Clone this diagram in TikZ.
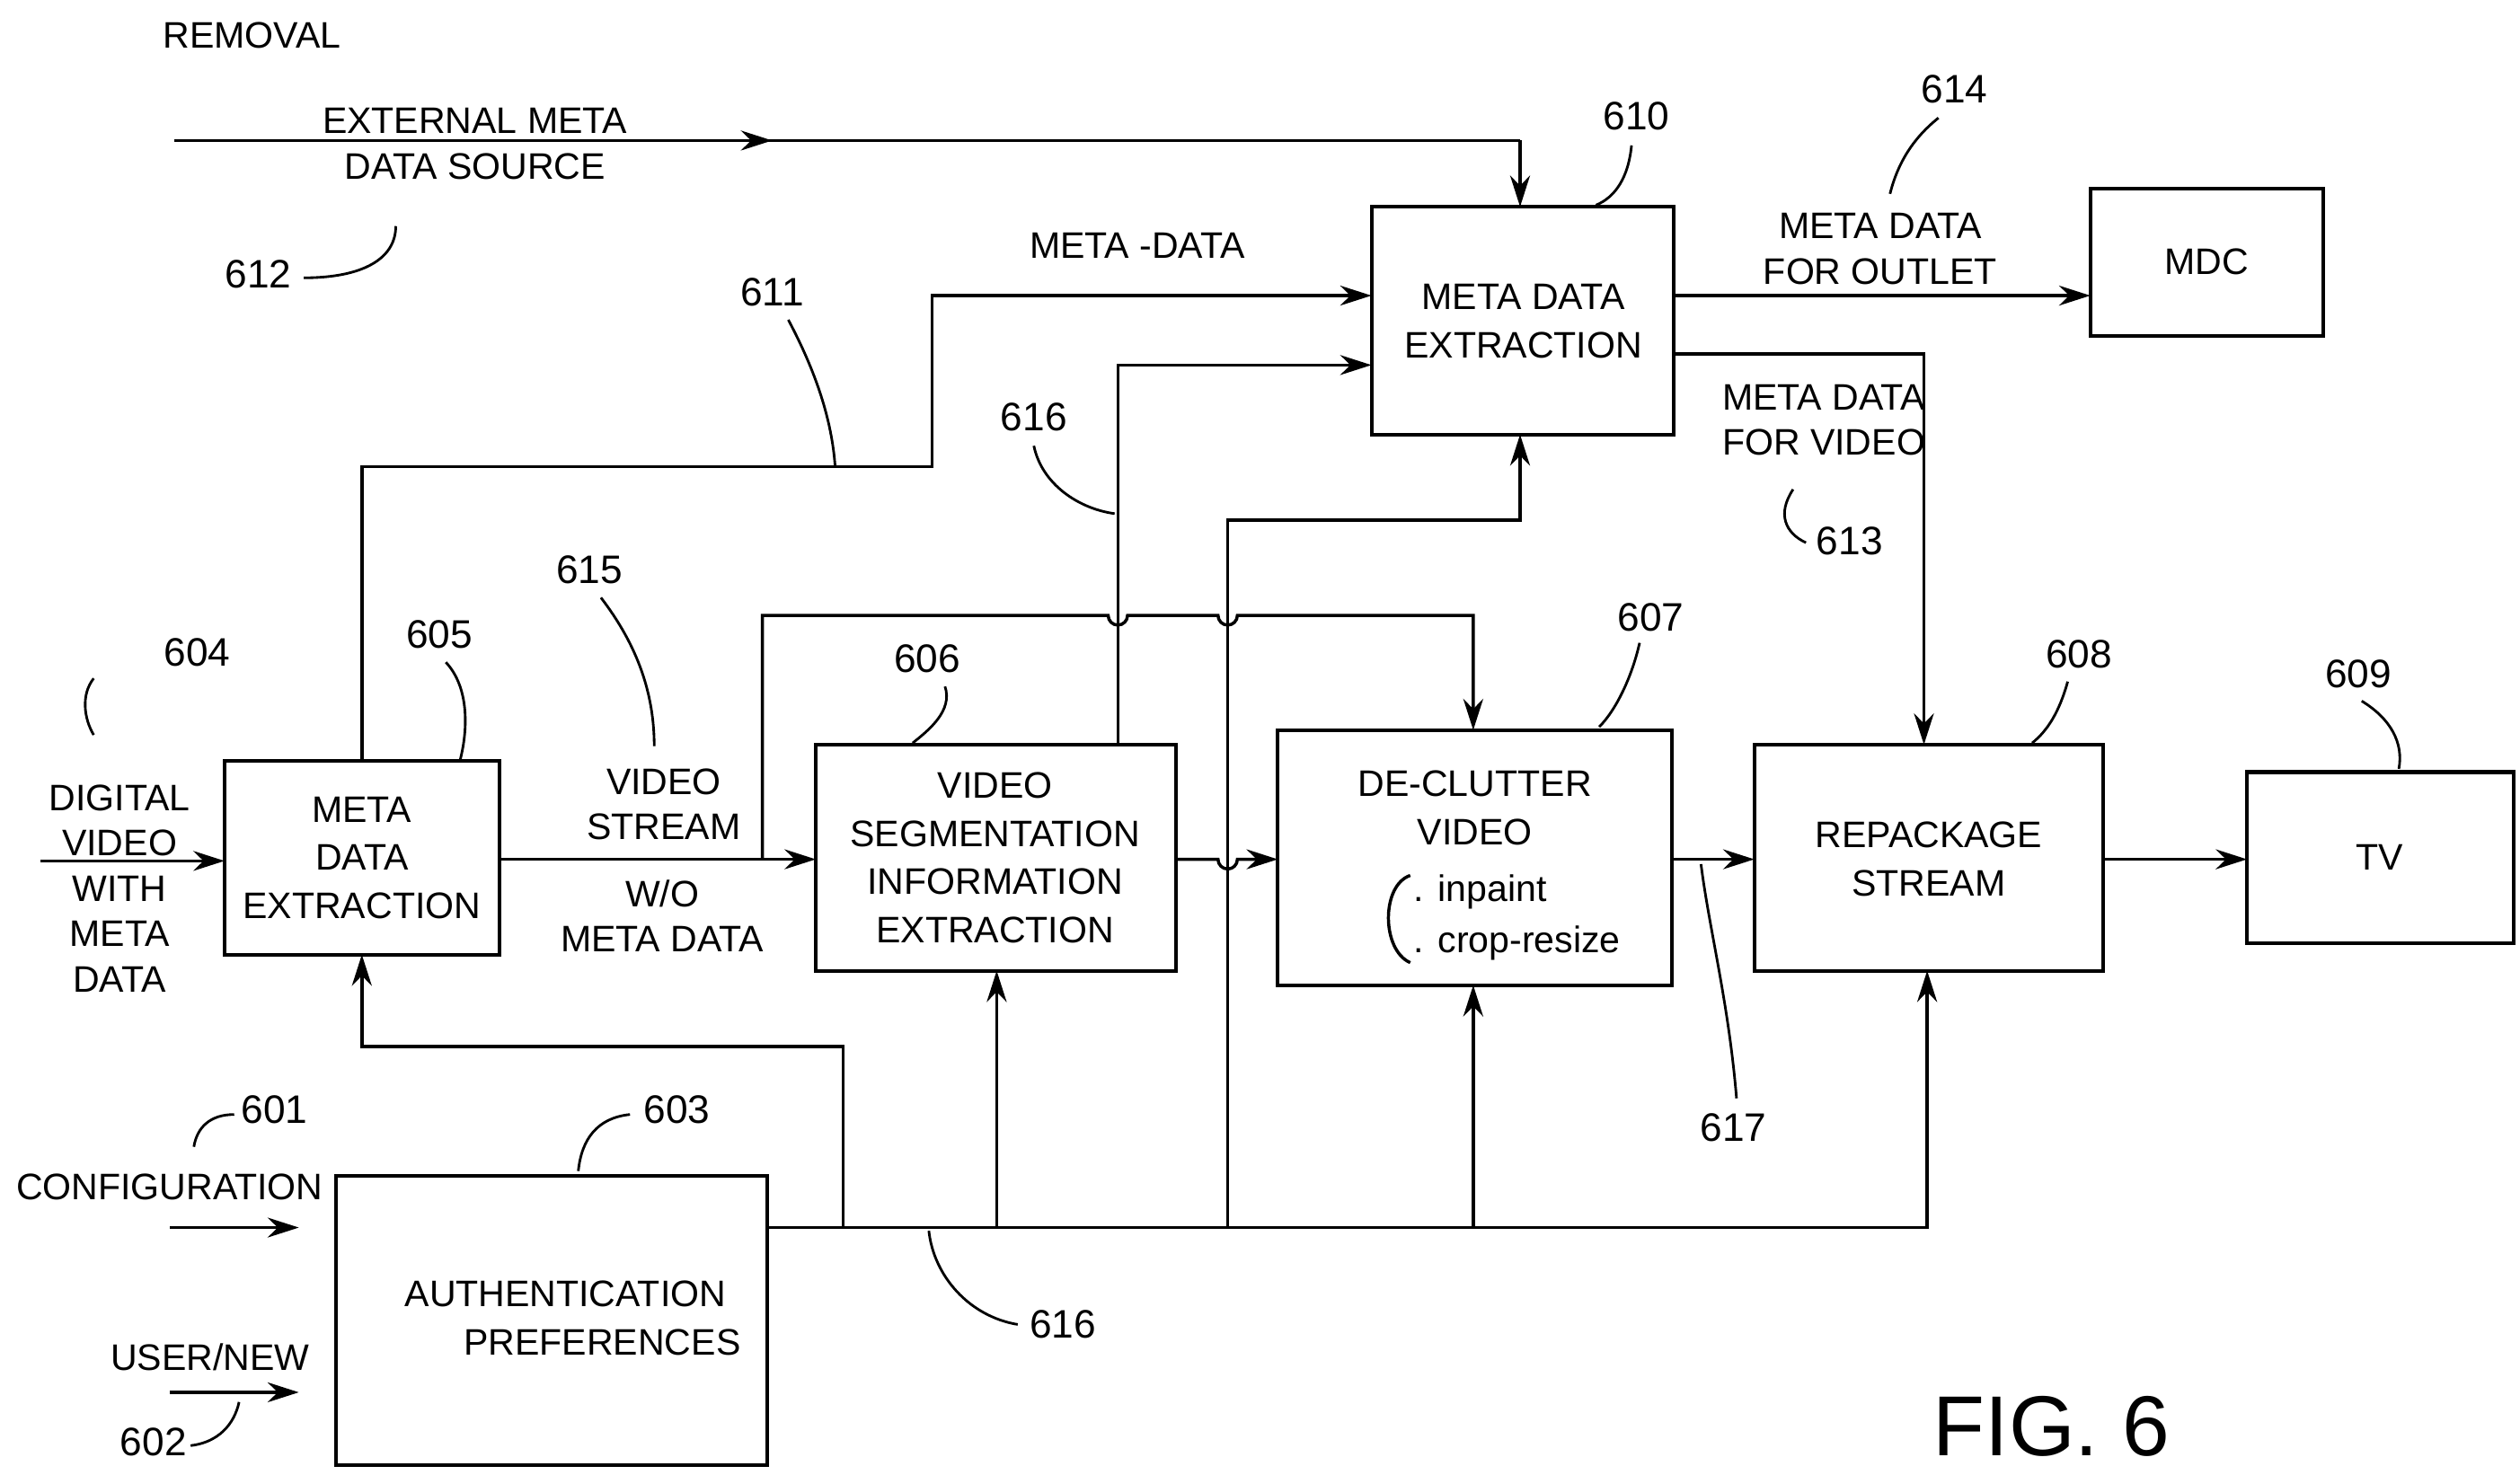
\documentclass[tikz,border=0pt]{standalone}
\usepackage{fontspec}
\setmainfont{Liberation Sans}
\usetikzlibrary{arrows.meta}
\begin{document}
\begin{tikzpicture}[x=0.02cm,y=-0.02cm,
 ln/.style={line width=1.1pt},
 bx/.style={line width=1.3pt},
 ar/.style={ln,-{Stealth[length=11pt,width=7pt]}},
 lead/.style={line width=0.9pt},
 t/.style={font=\fontsize{13}{16}\selectfont,align=center,inner sep=0pt},
 num/.style={font=\fontsize{14}{16}\selectfont,inner sep=0pt}]
\useasboundingbox (0,0) rectangle (1560,913);
% boxes
\draw[bx] (139,471) rectangle (309,591); \node[t] (b605) at (224,531) {META\\[1pt]DATA\\[1pt]EXTRACTION};
\draw[bx] (505,461) rectangle (728,601); \node[t] (b606) at (616,531) {VIDEO\\[1pt]SEGMENTATION\\[1pt]INFORMATION\\[1pt]EXTRACTION};
\draw[bx] (791,452) rectangle (1035,610); \node[t] (b607) at (913,500) {DE-CLUTTER\\[1pt]VIDEO};
\node[t,align=left,anchor=west] (b607b) at (875,568) {. inpaint\\[2pt]. crop-resize};
\draw[ln] (873,542) .. controls (855,548) and (855,588) .. (873,596);
\draw[bx] (1086,461) rectangle (1302,601); \node[t] (b608) at (1194,532) {REPACKAGE\\[1pt]STREAM};
\draw[bx] (1391,478) rectangle (1556,584); \node[t] (b609) at (1473,531) {TV};
\draw[bx] (849,128) rectangle (1036,269); \node[t] (b610) at (943,199) {META DATA\\[1pt]EXTRACTION};
\draw[bx] (1294,117) rectangle (1438,208); \node[t] (mdc) at (1366,162) {MDC};
\draw[bx] (208,728) rectangle (475,907); \node[t] (b603) at (350,816) {AUTHENTICATION\\[1pt]\hspace*{2em}PREFERENCES};
% main flow
\draw[ar] (25,533) -- (139,533);
\node[t] (dv) at (74,550) {DIGITAL\\[0pt]VIDEO\\[0pt]WITH\\[0pt]META\\[0pt]DATA};
\draw[ar] (309,532) -- (505,532);
\node[t] (vs) at (411,498) {VIDEO\\[0pt]STREAM};
\node[t] (wo) at (410,567) {W/O\\[0pt]META DATA};
\draw[ar] (728,532) -- (754,532) arc (180:0:6) -- (791,532);
\draw[ar] (1035,532) -- (1086,532);
\draw[ar] (1302,532) -- (1391,532);
% 611 path
\draw[ar] (224,471) -- (224,289) -- (577,289) -- (577,183) -- (849,183);
\node[t] at (704,152) {META -DATA};
% branch to 607
\draw[ar] (472,532) -- (472,381) -- (686,381) arc (180:0:6) -- (754,381) arc (180:0:6) -- (912,381) -- (912,452);
% 606 top
\draw[ar] (692,461) -- (692,226) -- (849,226);
% 760 riser
\draw[ar] (760,760) -- (760,322) -- (941,322) -- (941,269);
% external
\draw[ln] (108,87) -- (941,87);
\draw[ar] (108,87) -- (478,87);
\draw[ar] (941,87) -- (941,128);
\node[t] at (156,22) {REMOVAL};
\node[t] at (294,89) {EXTERNAL META\\[0pt]DATA SOURCE};
% outputs of 610
\draw[ar] (1036,183) -- (1294,183);
\node[t] at (1164,154) {META DATA\\[0pt]FOR OUTLET};
\draw[ar] (1036,219) -- (1191,219) -- (1191,461);
\node[t] at (1129,260) {META DATA\\[0pt]FOR VIDEO};
% bus
\draw[ar] (475,760) -- (1193,760) -- (1193,601);
\draw[ar] (522,760) -- (522,648) -- (224,648) -- (224,591);
\draw[ar] (617,760) -- (617,601);
\draw[ar] (912,760) -- (912,610);
% inputs to 603
\node[t] at (105,735) {CONFIGURATION};
\draw[ar] (105,760) -- (185,760);
\node[t] at (130,840) {USER/NEW};
\draw[ar] (105,862) -- (185,862);
% reference numbers
\node[num] at (122,404) {604};
\draw[lead] (58,420) .. controls (50,430) and (52,445) .. (58,455);
\node[num] at (272,393) {605}; \draw[lead] (276,410) .. controls (290,425) and (290,450) .. (285,470);
\node[num] at (365,353) {615}; \draw[lead] (372,370) .. controls (395,400) and (405,430) .. (405,462);
\node[num] at (574,408) {606}; \draw[lead] (585,425) .. controls (590,440) and (575,452) .. (565,460);
\node[num] at (1022,382) {607}; \draw[lead] (1015,398) .. controls (1010,420) and (1000,440) .. (990,450);
\node[num] at (1287,405) {608}; \draw[lead] (1280,422) .. controls (1275,440) and (1268,452) .. (1258,460);
\node[num] at (1460,417) {609}; \draw[lead] (1462,434) .. controls (1480,445) and (1488,460) .. (1485,476);
\node[num] at (1013,72) {610}; \draw[lead] (1010,90) .. controls (1008,110) and (1000,122) .. (988,127);
\node[num] at (478,181) {611}; \draw[lead] (488,198) .. controls (505,230) and (515,260) .. (517,289);
\node[num] at (160,170) {612}; \draw[lead] (188,172) .. controls (225,172) and (245,160) .. (245,140);
\node[num] at (1145,335) {613}; \draw[lead] (1118,336) .. controls (1105,330) and (1100,318) .. (1110,303);
\node[num] at (1210,55) {614}; \draw[lead] (1200,73) .. controls (1185,85) and (1175,100) .. (1170,120);
\node[num] at (640,258) {616}; \draw[lead] (640,276) .. controls (645,300) and (668,315) .. (690,318);
\node[num] at (658,820) {616}; \draw[lead] (630,820) .. controls (600,815) and (578,790) .. (575,762);
\node[num] at (1073,698) {617}; \draw[lead] (1075,680) .. controls (1070,620) and (1058,575) .. (1053,535);
\node[num] at (419,687) {603}; \draw[lead] (390,690) .. controls (370,692) and (360,705) .. (358,725);
\node[num] at (170,687) {601}; \draw[lead] (145,690) .. controls (130,690) and (122,698) .. (120,710);
\node[num] at (95,893) {602}; \draw[lead] (118,895) .. controls (135,893) and (145,882) .. (148,868);
\node[font=\fontsize{30}{34}\selectfont,inner sep=0pt] at (1270,883) {FIG. 6};
\end{tikzpicture}
\end{document}
